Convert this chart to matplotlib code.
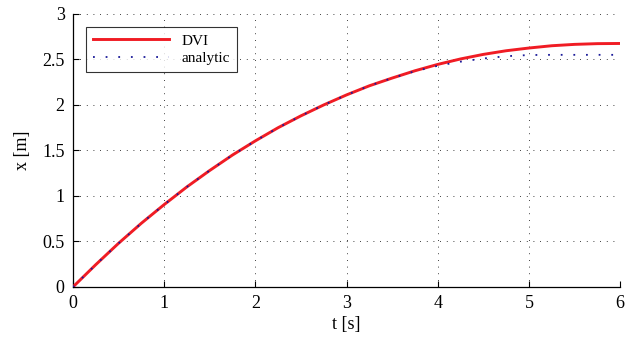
import matplotlib; matplotlib.use("Agg")
import matplotlib.pyplot as plt

# values
t = [0, 0.25, 0.5, 0.75, 1.0, 1.25, 1.5, 1.75, 2.0, 2.25, 2.5, 2.75, 3.0,
     3.25, 3.5, 3.75, 4.0, 4.25, 4.5, 4.75, 5.0, 5.25, 5.5, 5.75, 6.0]
x_dvi = [0, 0.245, 0.48, 0.70, 0.905, 1.10, 1.28, 1.45, 1.605, 1.75, 1.88, 2.00, 2.11,
         2.21, 2.295, 2.375, 2.445, 2.505, 2.555, 2.595, 2.625, 2.65, 2.665, 2.673, 2.675]
x_ana = [0, 0.245, 0.48, 0.70, 0.905, 1.10, 1.28, 1.45, 1.605, 1.75, 1.88, 2.00, 2.11,
         2.21, 2.295, 2.37, 2.43, 2.475, 2.51, 2.535, 2.548, 2.55, 2.55, 2.55, 2.55]
xticks = [0, 1, 2, 3, 4, 5, 6]
yticks = [0, 0.5, 1, 1.5, 2, 2.5, 3]

plt.rcParams["font.family"] = ["Liberation Serif", "DejaVu Serif"]
fig = plt.figure(figsize=(6.4, 3.47), dpi=100)
ax = fig.add_axes([0.114, 0.173, 0.855, 0.787])

ax.plot(t, x_dvi, "-", color="#f01c24", lw=2.1, label="DVI", zorder=3)
ax.plot(t, x_ana, color="#1a1a99", lw=1.3, dashes=(1.0, 6.0), label="analytic", zorder=4)

ax.set_xlim(0, 6); ax.set_ylim(0, 3)
ax.set_xticks(xticks); ax.set_yticks(yticks)
ax.set_xticklabels([str(v) for v in xticks])
ax.set_yticklabels(["0", "0.5", "1", "1.5", "2", "2.5", "3"])
ax.tick_params(direction="in", length=4, width=0.8, labelsize=13, pad=6)
ax.grid(True, color="black", lw=0.6, dashes=(1, 7))
for s in ["top", "right"]:
    ax.spines[s].set_visible(False)
for s in ["left", "bottom"]:
    ax.spines[s].set_linewidth(0.9)
ax.set_xlabel("t [s]", fontsize=13, labelpad=3)
ax.set_ylabel("x [m]", fontsize=13, labelpad=8)

leg = ax.legend(loc="upper left", bbox_to_anchor=(0.024, 0.952), fontsize=11,
                handlelength=5.0, frameon=True, fancybox=False, borderaxespad=0,
                borderpad=0.45, labelspacing=0.25, handletextpad=0.8)
leg.get_frame().set_edgecolor("black"); leg.get_frame().set_linewidth(0.8)

fig.savefig("out.png", dpi=100)
